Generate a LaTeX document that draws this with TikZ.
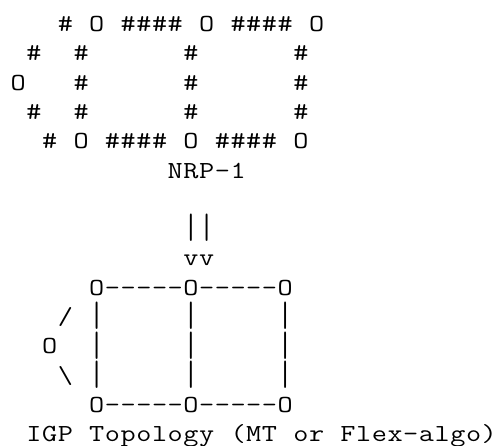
\documentclass[tikz,border=0pt]{standalone}
\usepackage{fontspec}
\usetikzlibrary{calc}
\newcount\artcol
\newcommand\artfont{\fontsize{24.5pt}{29pt}\selectfont\ttfamily}
% a vertical bar stretched to nearly the full row pitch, as in typewriter faces
\newcommand\artbar{\raisebox{-5.2pt}{\resizebox{\width}{27.4pt}{\raisebox{\depth}{|}}}}
\tikzset{
  artchar/.style={anchor=base, inner sep=0pt, outer sep=0pt, text=black, font=\artfont}
}
% character grid: column pitch and row pitch
\def\cw{15.7pt}
\def\rh{29.3pt}
% place one row of monospaced characters; '.' leaves a cell empty
\makeatletter
\newcommand\cellrow[2]{%
  \begingroup
  \global\artcol=0
  \def\blankcell{.}%
  \@tfor\tok:=#2\do{%
    \ifx\tok\blankcell\else
      \node[artchar] (c#1-\the\artcol) at ($(18.3pt,-31.5pt)+(\the\artcol*\cw,-#1*\rh)$) {\scalebox{1.2}[1]{\tok}};%
    \fi
    \global\advance\artcol 1
  }%
  \endgroup}
\makeatother
\begin{document}
\begin{tikzpicture}
\useasboundingbox[fill=white] (0,0) rectangle (500pt,-445pt);
% upper graph: NRP-1
\cellrow{0}{...\#.O.\#\#\#\#.O.\#\#\#\#.O}
\cellrow{1}{.\#..\#......\#......\#}
\cellrow{2}{O...\#......\#......\#}
\cellrow{3}{.\#..\#......\#......\#}
\cellrow{4}{..\#.O.\#\#\#\#.O.\#\#\#\#.O}
\cellrow{5}{..........NRP-1}
% mapping arrow
\cellrow{7}{...........\artbar\artbar}
\cellrow{8}{...........vv}
% lower graph: IGP topology
\cellrow{9}{.....O-----O-----O}
\cellrow{10}{.../.\artbar.....\artbar.....\artbar}
\cellrow{11}{..O..\artbar.....\artbar.....\artbar}
\cellrow{12}{...\textbackslash.\artbar.....\artbar.....\artbar}
\cellrow{13}{.....O-----O-----O}
\cellrow{14}{.IGP.Topology.(MT.or.Flex-algo)}
\end{tikzpicture}
\end{document}
